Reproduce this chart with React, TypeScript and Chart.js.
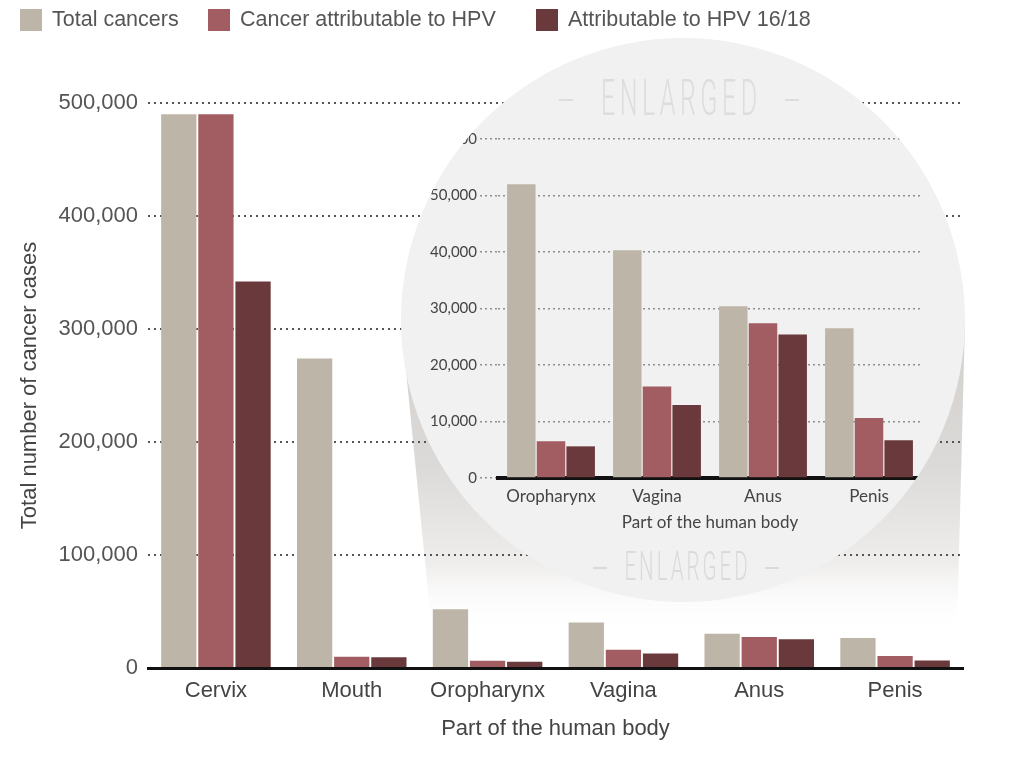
import React, { useEffect, useRef } from 'react';
import { Chart, registerables } from 'chart.js';

Chart.register(...registerables);

// ---------- data ----------
const categories = ['Cervix', 'Mouth', 'Oropharynx', 'Vagina', 'Anus', 'Penis'];
const insetCategories = ['Oropharynx', 'Vagina', 'Anus', 'Penis'];
const seriesLabels = ['Total cancers', 'Cancer attributable to HPV', 'Attributable to HPV 16/18'];
const totalCancers = [490000, 274000, 52000, 40300, 30400, 26500];
const hpvAttributable = [490000, 10000, 6500, 16200, 27400, 10600];
const hpv1618 = [342000, 9500, 5600, 12900, 25400, 6700];
const insetTotal = [52000, 40300, 30400, 26500];
const insetHpv = [6500, 16200, 27400, 10600];
const insetHpv1618 = [5600, 12900, 25400, 6700];
const mainAxisMax = 500000;
const mainAxisStep = 100000;
const insetAxisMax = 60000;
const insetAxisStep = 10000;

// ---------- styles ----------
const colors = ['#bdb5a8', '#a25d62', '#6a393c'];
const MAIN_FONT = '"Liberation Sans", Arial, sans-serif';
const INSET_FONT = 'Lato, "Open Sans", sans-serif';
const legendX = [20, 208, 536];
const CIRCLE = { cx: 683, cy: 320, r: 282 };

const fmt = (v: number | string) => Number(v).toLocaleString('en-US');

const legendPlugin = {
  id: 'customLegend',
  afterDraw(chart: any) {
    const ctx = chart.ctx as CanvasRenderingContext2D;
    ctx.save();
    ctx.font = `21.5px ${MAIN_FONT}`;
    ctx.textBaseline = 'middle';
    ctx.textAlign = 'left';
    chart.data.datasets.forEach((ds: any, i: number) => {
      const x = legendX[i];
      ctx.fillStyle = ds.backgroundColor;
      ctx.fillRect(x, 9, 22, 22);
      ctx.fillStyle = '#555';
      ctx.fillText(ds.label, x + 32, 20);
    });
    ctx.restore();
  },
};

function drawEnlarged(
  ctx: CanvasRenderingContext2D,
  cx: number,
  cy: number,
  size: number,
  spacing: number,
  dashDist: number,
  color: string
) {
  ctx.save();
  ctx.fillStyle = color;
  ctx.translate(cx, cy);
  ctx.scale(0.5, 1);
  ctx.font = `300 ${size}px Roboto, "DejaVu Sans", sans-serif`;
  (ctx as any).letterSpacing = `${spacing}px`;
  ctx.textAlign = 'center';
  ctx.textBaseline = 'middle';
  ctx.fillText('ENLARGED', spacing / 2, 2);
  ctx.restore();
  ctx.save();
  ctx.fillStyle = color;
  ctx.fillRect(cx - dashDist - 7, cy - 1, 14, 2);
  ctx.fillRect(cx + dashDist - 7, cy - 1, 14, 2);
  ctx.restore();
}

const magnifierPlugin = {
  id: 'magnifier',
  beforeDraw(chart: any) {
    const ctx = chart.ctx as CanvasRenderingContext2D;
    ctx.save();
    const g = ctx.createLinearGradient(0, 330, 0, 632);
    g.addColorStop(0, '#d3d0cd');
    g.addColorStop(0.45, '#dcdad8');
    g.addColorStop(0.78, '#efeeed');
    g.addColorStop(1, 'rgba(255,255,255,0)');
    ctx.fillStyle = g;
    ctx.beginPath();
    ctx.moveTo(CIRCLE.cx - CIRCLE.r, CIRCLE.cy);
    ctx.lineTo(432, 632);
    ctx.lineTo(957, 632);
    ctx.lineTo(CIRCLE.cx + CIRCLE.r, CIRCLE.cy);
    ctx.closePath();
    ctx.fill();
    ctx.restore();
  },
  beforeDatasetsDraw(chart: any) {
    const ctx = chart.ctx as CanvasRenderingContext2D;
    ctx.save();
    ctx.fillStyle = '#f1f1f1';
    ctx.beginPath();
    ctx.arc(CIRCLE.cx, CIRCLE.cy, CIRCLE.r, 0, Math.PI * 2);
    ctx.fill();
    ctx.restore();
    drawEnlarged(ctx, 679, 100, 50, 9, 113, '#dddddd');
    drawEnlarged(ctx, 686, 568, 41, 6, 86, '#dadada');
  },
};

export default function App() {
  const mainRef = useRef<HTMLCanvasElement>(null);
  const insetRef = useRef<HTMLCanvasElement>(null);

  useEffect(() => {
    if (!mainRef.current || !insetRef.current) return;

    const main = new Chart(mainRef.current, {
      type: 'bar',
      data: {
        labels: categories,
        datasets: [
          { label: seriesLabels[0], data: totalCancers, backgroundColor: colors[0] },
          { label: seriesLabels[1], data: hpvAttributable, backgroundColor: colors[1] },
          { label: seriesLabels[2], data: hpv1618, backgroundColor: colors[2] },
        ],
      },
      options: {
        responsive: false,
        animation: false,
        devicePixelRatio: 1,
        events: [],
        layout: { padding: { top: 103, left: 0, right: 60, bottom: 17 } },
        datasets: { bar: { categoryPercentage: 0.82, barPercentage: 0.95 } },
        plugins: { legend: { display: false }, tooltip: { enabled: false } },
        scales: {
          x: {
            grid: { display: false, drawTicks: false },
            border: { display: true, color: '#111', width: 3 },
            ticks: { color: '#444', font: { family: MAIN_FONT, size: 22 }, padding: 10 },
            title: {
              display: true,
              text: 'Part of the human body',
              color: '#444',
              font: { family: MAIN_FONT, size: 22 },
              padding: { top: 0, bottom: 6 },
            },
            afterFit: (s: any) => {
              s.height = 80;
            },
          },
          y: {
            min: 0,
            max: mainAxisMax,
            ticks: {
              stepSize: mainAxisStep,
              callback: (v: any) => fmt(v),
              color: '#555',
              font: { family: MAIN_FONT, size: 22 },
              padding: 10,
            },
            grid: { color: '#555', lineWidth: 2, drawTicks: false },
            border: { display: false, dash: [2, 4] },
            title: {
              display: true,
              text: 'Total number of cancer cases',
              color: '#444',
              font: { family: MAIN_FONT, size: 22 },
              padding: { top: 17, bottom: 0 },
            },
            afterFit: (s: any) => {
              s.width = 148;
            },
          },
        },
      } as any,
      plugins: [magnifierPlugin, legendPlugin],
    });

    const inset = new Chart(insetRef.current, {
      type: 'bar',
      data: {
        labels: insetCategories,
        datasets: [
          { label: seriesLabels[0], data: insetTotal, backgroundColor: colors[0] },
          { label: seriesLabels[1], data: insetHpv, backgroundColor: colors[1] },
          { label: seriesLabels[2], data: insetHpv1618, backgroundColor: colors[2] },
        ],
      },
      options: {
        responsive: false,
        animation: false,
        devicePixelRatio: 1,
        events: [],
        layout: { padding: { top: 101, left: 0, right: 43, bottom: 64 } },
        datasets: { bar: { categoryPercentage: 0.84, barPercentage: 0.96 } },
        plugins: { legend: { display: false }, tooltip: { enabled: false } },
        scales: {
          x: {
            grid: { display: false, drawTicks: false },
            border: { display: true, color: '#111', width: 4 },
            ticks: { color: '#444', font: { family: INSET_FONT, size: 17 }, padding: 8 },
            title: {
              display: true,
              text: 'Part of the human body',
              color: '#444',
              font: { family: INSET_FONT, size: 17 },
              padding: { top: 0, bottom: 5 },
            },
            afterFit: (s: any) => {
              s.height = 60;
            },
          },
          y: {
            min: 0,
            max: insetAxisMax,
            ticks: {
              stepSize: insetAxisStep,
              callback: (v: any) => fmt(v),
              color: '#444',
              font: { family: INSET_FONT, size: 15 },
              padding: 3,
            },
            grid: {
              color: '#8f8f8f',
              lineWidth: 1.5,
              drawTicks: true,
              tickLength: 18,
              tickColor: '#8f8f8f',
              tickWidth: 1.5,
              tickBorderDash: [2, 3],
            },
            border: { display: false, dash: [2, 3] },
            afterFit: (s: any) => {
              s.width = 97;
            },
          },
        },
      } as any,
    });

    return () => {
      main.destroy();
      inset.destroy();
    };
  }, []);

  return (
    <div
      style={{
        position: 'fixed',
        left: 0,
        top: 0,
        width: 1023,
        height: 765,
        background: '#fff',
        overflow: 'hidden',
      }}
    >
      <canvas
        ref={mainRef}
        width={1023}
        height={765}
        style={{ position: 'absolute', left: 0, top: 0 }}
      />
      <canvas
        ref={insetRef}
        width={564}
        height={564}
        style={{
          position: 'absolute',
          left: CIRCLE.cx - CIRCLE.r,
          top: CIRCLE.cy - CIRCLE.r,
          clipPath: `circle(${CIRCLE.r}px at ${CIRCLE.r}px ${CIRCLE.r}px)`,
        }}
      />
    </div>
  );
}
